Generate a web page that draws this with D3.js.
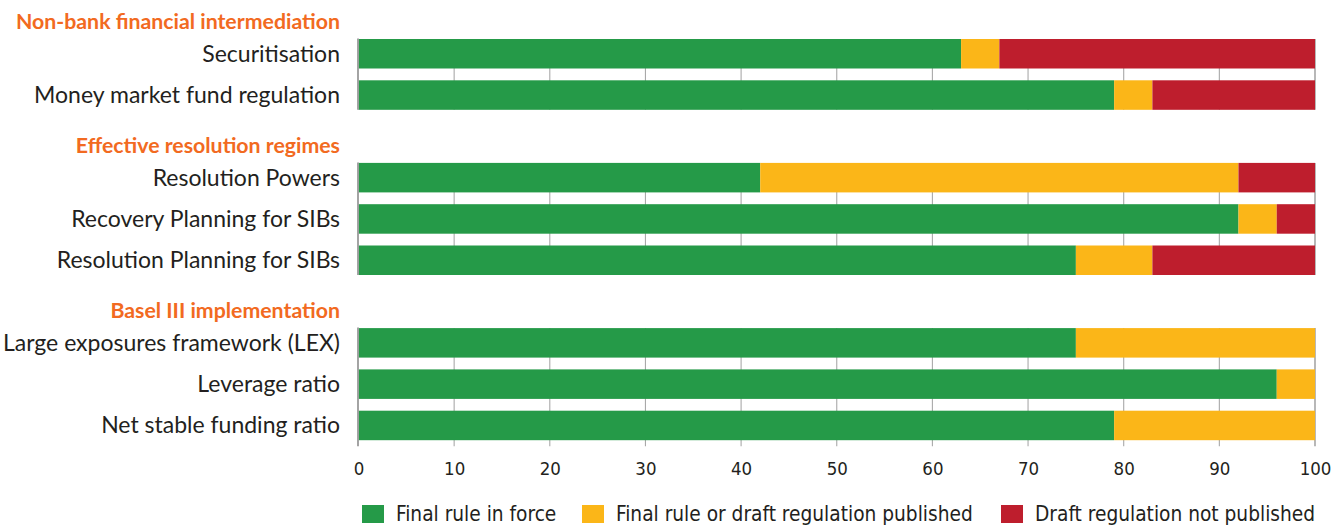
<!DOCTYPE html>
<html>
<head>
<meta charset="utf-8">
<script src="https://cdn.jsdelivr.net/npm/d3@7/dist/d3.min.js"></script>
<style>
  html, body { margin: 0; padding: 0; background: #fff; }
  svg { display: block; }
  .cat { font-family: Lato, "Open Sans", sans-serif; font-size: 23px; fill: #231f20; }
  .grp { font-family: Lato, "Open Sans", sans-serif; font-size: 21.3px; font-weight: 700; fill: #f26a21; }
  .tick-label, .legend-label { font-family: "Liberation Sans Narrow", "DejaVu Sans Condensed", sans-serif; fill: #231f20; }
</style>
</head>
<body>
<svg id="chart" width="1331" height="527"></svg>
<script>
// Implementation status by reform area (% of jurisdictions)
const groups = ["Non-bank financial intermediation", "Effective resolution regimes", "Basel III implementation"];
const categories = [
  "Securitisation", "Money market fund regulation",
  "Resolution Powers", "Recovery Planning for SIBs", "Resolution Planning for SIBs",
  "Large exposures framework (LEX)", "Leverage ratio", "Net stable funding ratio"
];
const categoryGroup = [0, 0, 1, 1, 1, 2, 2, 2];
const finalInForce   = [63, 79, 42, 92, 75, 75, 96, 79];
const draftPublished = [4, 4, 50, 4, 8, 25, 4, 21];
const notPublished   = [33, 17, 8, 4, 17, 0, 0, 0];
const seriesNames = ["Final rule in force", "Final rule or draft regulation published", "Draft regulation not published"];
const seriesColors = ["#259a48", "#fbb618", "#be1e2d"];
const xTicks = [0, 10, 20, 30, 40, 50, 60, 70, 80, 90, 100];

const svg = d3.select("#chart");

// Row layout: each group gets a heading row followed by its categories
const rows = [];
groups.forEach((g, gi) => {
  rows.push({ key: "group:" + g, label: g, type: "group", gi });
  categories.forEach((c, ci) => {
    if (categoryGroup[ci] === gi) rows.push({ key: c, label: c, type: "cat", gi, ci });
  });
});

const x = d3.scaleLinear().domain([0, 100]).range([358.5, 1315]);
const y = d3.scaleBand()
  .domain(rows.map(r => r.key))
  .range([-8.2, 446.1])
  .paddingInner(0.2857)
  .paddingOuter(0.1429);

const table = categories.map((c, i) => ({
  category: c,
  s0: finalInForce[i],
  s1: draftPublished[i],
  s2: notPublished[i]
}));
const stack = d3.stack().keys(["s0", "s1", "s2"])(table);

// Gridlines, one panel per group
groups.forEach((g, gi) => {
  const cats = categories.filter((c, ci) => categoryGroup[ci] === gi);
  const top = y(cats[0]);
  let bottom = y(cats[cats.length - 1]) + y.bandwidth();
  if (gi === groups.length - 1) bottom += 6;
  svg.append("g")
    .selectAll("line")
    .data(xTicks.slice(1))
    .join("line")
    .attr("x1", d => x(d)).attr("x2", d => x(d))
    .attr("y1", top).attr("y2", bottom)
    .attr("stroke", d => d === 100 ? "#a6a6a6" : "#a9a9a9")
    .attr("stroke-width", d => d === 100 ? 1.6 : 1.1);
});

// Stacked bars
svg.append("g")
  .selectAll("g")
  .data(stack)
  .join("g")
  .attr("fill", (d, i) => seriesColors[i])
  .selectAll("rect")
  .data(d => d)
  .join("rect")
  .attr("x", d => x(d[0]))
  .attr("width", d => Math.max(0, x(d[1]) - x(d[0])))
  .attr("y", d => y(d.data.category))
  .attr("height", y.bandwidth());

// Left axis line per group
groups.forEach((g, gi) => {
  const cats = categories.filter((c, ci) => categoryGroup[ci] === gi);
  const top = y(cats[0]) - 0.5;
  let bottom = y(cats[cats.length - 1]) + y.bandwidth();
  if (gi === groups.length - 1) bottom += 6;
  svg.append("line")
    .attr("x1", x(0) - 0.5).attr("x2", x(0) - 0.5)
    .attr("y1", top).attr("y2", bottom)
    .attr("stroke", "#9a9a9a").attr("stroke-width", 1.8);
});

// Row labels and group headings
svg.append("g")
  .selectAll("text")
  .data(rows)
  .join("text")
  .attr("class", d => d.type === "group" ? "grp" : "cat")
  .attr("text-anchor", "end")
  .attr("x", 340)
  .attr("y", d => d.type === "group" ? y(d.key) + y.bandwidth() - 6 : y(d.key) + y.bandwidth() / 2)
  .attr("dy", "0.35em")
  .text(d => d.label);

// Bottom tick labels
const xAxis = d3.axisBottom(x).tickValues(xTicks).tickSize(0).tickPadding(0).tickFormat(d3.format("d"));
const ax = svg.append("g").attr("transform", "translate(0,462)").call(xAxis);
ax.select(".domain").remove();
ax.selectAll("text").attr("class", "tick-label").attr("font-size", 18.5).attr("fill", "#231f20")
  .style("font-family", "'Liberation Sans Narrow', 'DejaVu Sans Condensed', sans-serif");

// Legend
const legendX = [362, 582, 1001];
const legend = svg.append("g").attr("transform", "translate(0,505)");
seriesNames.forEach((name, i) => {
  legend.append("rect")
    .attr("x", legendX[i]).attr("y", 0)
    .attr("width", 22).attr("height", 18)
    .attr("fill", seriesColors[i]);
  legend.append("text")
    .attr("class", "legend-label")
    .attr("x", legendX[i] + 34).attr("y", 9).attr("dy", "0.36em")
    .attr("font-size", 20.7)
    .text(name);
});
</script>
</body>
</html>
